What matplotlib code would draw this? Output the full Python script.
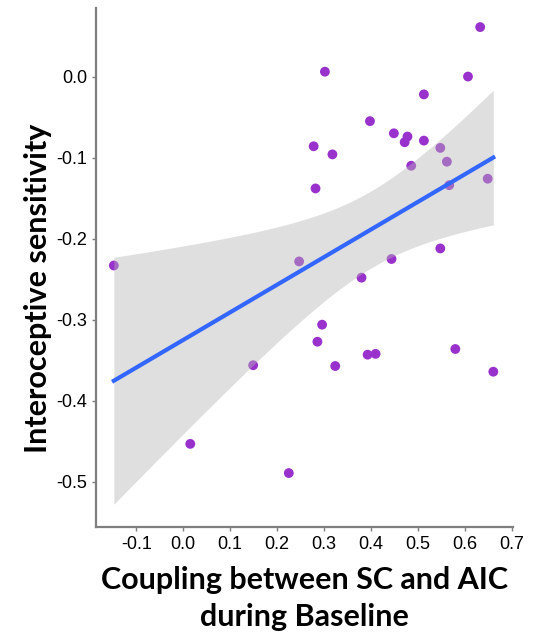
import numpy as np
import matplotlib.pyplot as plt

# coupling (x) vs interoceptive sensitivity (y), one point per subject
coupling = [0.633, 0.302, 0.607, 0.513, 0.398, 0.449, 0.478, 0.472, 0.513, 0.278,
            0.548, 0.318, 0.562, 0.486, 0.649, 0.567, 0.282, 0.548, 0.444, 0.247,
            -0.148, 0.380, 0.296, 0.286, 0.393, 0.410, 0.149, 0.324, 0.580, 0.661,
            0.015, 0.225]
sensitivity = [0.061, 0.006, 0.000, -0.022, -0.055, -0.070, -0.074, -0.081, -0.079, -0.086,
               -0.088, -0.096, -0.105, -0.110, -0.126, -0.134, -0.138, -0.212, -0.225, -0.228,
               -0.233, -0.248, -0.306, -0.327, -0.343, -0.342, -0.356, -0.357, -0.336, -0.364,
               -0.453, -0.489]

x_ticks = [-0.1, 0.0, 0.1, 0.2, 0.3, 0.4, 0.5, 0.6, 0.7]
y_ticks = [0.0, -0.1, -0.2, -0.3, -0.4, -0.5]

x = np.array(coupling)
y = np.array(sensitivity)

# linear fit with 95% confidence band
n = len(x)
slope, intercept = np.polyfit(x, y, 1)
resid = y - (slope * x + intercept)
s = np.sqrt(np.sum(resid ** 2) / (n - 2))
t_crit = 2.042  # t(0.975, df=30)
xs = np.linspace(x.min(), x.max(), 80)
fit = slope * xs + intercept
se = s * np.sqrt(1 / n + (xs - x.mean()) ** 2 / np.sum((x - x.mean()) ** 2))

fig = plt.figure(figsize=(5.34, 6.37), dpi=100)
ax = fig.add_axes([0.1798, 0.1727, 0.7809, 0.8147])

ax.scatter(x, y, s=50, color='#9932CC', edgecolors='none', zorder=2)
ax.fill_between(xs, fit - t_crit * se, fit + t_crit * se, color='#B7B7B7',
                alpha=0.43, linewidth=0, zorder=3)
ax.plot(xs, fit, color='#3366FF', linewidth=3, zorder=4)

ax.set_xlim(-0.186, 0.703)
ax.set_ylim(-0.5555, 0.0845)
ax.set_xticks(x_ticks)
ax.set_xticklabels([f'{v:.1f}' for v in x_ticks])
ax.set_yticks(y_ticks)
ax.set_yticklabels([f'{v:.1f}' for v in y_ticks])

for side in ['top', 'right']:
    ax.spines[side].set_visible(False)
for side in ['left', 'bottom']:
    ax.spines[side].set_color('#7f7f7f')
    ax.spines[side].set_linewidth(1.6)
ax.tick_params(colors='#7f7f7f', length=3, width=1, labelcolor='black',
               labelsize=13)
for lab in ax.get_xticklabels() + ax.get_yticklabels():
    lab.set_family('Liberation Sans')

ax.set_xlabel('Coupling between SC and AIC\nduring Baseline', fontsize=22,
              fontweight='bold', family='Lato', linespacing=1.4, labelpad=9)
ax.set_ylabel('Interoceptive sensitivity', fontsize=22, fontweight='bold',
              family='Lato')
ax.yaxis.set_label_coords(-0.105, 0.46)

fig.savefig('out.png', dpi=100)
